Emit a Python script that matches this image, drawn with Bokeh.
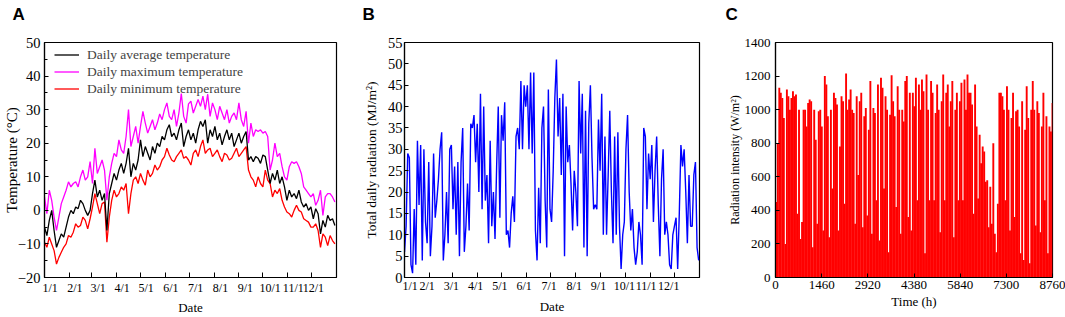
import numpy as np
from bokeh.plotting import figure
from bokeh.layouts import row
from bokeh.models import FixedTicker, Legend, LegendItem, Range1d, Title
from bokeh.embed import file_html
from bokeh.resources import INLINE

# ---------------- data ----------------
# Panel A: daily temperatures (sampled every 3rd day of the year)
temp_days = list(range(0, 365, 3))
temp_avg = [-5, -7.5, -3, 0, -6, -11, -9, -7, -8, -5,
            -2, 0, -1, 1, 0.5, 3, 2, 0, -1.5, 0,
            5, 9, 4, 6, 3, 5, -6, 5, 8, 11,
            9, 12, 14, 11, 14, 18.5, 10, 14, 12, 15,
            21, 16, 19, 17, 15, 19, 17, 20, 19, 22,
            21, 24, 25.5, 22, 23, 21, 24, 26, 19, 22,
            24, 21, 23, 20, 24, 26.5, 25, 27, 20, 24,
            22, 25, 21, 23, 19.5, 22, 24, 21, 23, 19,
            21, 23, 20, 22, 23.5, 15, 16, 14.5, 16, 15.5,
            14, 16.5, 16, 12, 8, 11, 9, 12, 8, 10,
            7, 3, 6, 4, 5, 3.5, 6, 2.5, 1, 2,
            0, 1, -2.5, 0.5, -1, -7, -3, -5, -1.5, -3,
            -2.5, -4.5]
temp_max = [4, -1, 6, 3, -2, -6, -2, 2, 4, 6,
            8.5, 7, 8, 8.5, 7, 10, 12, 9, 10, 14.5,
            8, 18.5, 11, 13, 15, 12, 3, 10, 14, 17,
            16, 21, 18, 17, 22, 30, 19, 22, 25, 20,
            25, 29.5, 26, 23, 25, 27, 24, 26, 28.7, 27,
            30, 32, 28, 27, 30, 25, 29, 34.8, 28, 26,
            31.7, 32.5, 29, 31, 33, 31, 34, 30, 34.6, 28,
            32, 30, 27, 31, 29, 27, 30, 26, 28, 29,
            27, 32, 27, 25, 29.5, 20, 26, 22, 24, 23.5,
            24, 23, 23.5, 22, 12, 15, 20, 16, 17, 13,
            10, 9, 13, 14.5, 14, 14.5, 13, 11, 7, 6,
            5, 4, 5, 1.5, 3, 6, -1.5, 4, 5, 5,
            4, 2.5]
temp_min = [-9.5, -11, -8, -10, -12, -16, -14, -12.5, -11, -10,
            -7.5, -8, -6.5, -4, -5, -4.5, -2, -3, -5.5, -2.5,
            1, 5, 2, -1, 2, 2.5, -9.5, -2, 3, 6,
            4, 5, 7, 6, 8, -1, 5, 9, 10, 8,
            11, 9, 7.5, 12, 10, 11, 13.5, 12, 13, 15,
            16, 18.5, 16.5, 15, 14.5, 16, 17, 18, 15.5, 16,
            15, 13.5, 17, 18, 16, 19, 21, 17, 18, 18.5,
            16, 17, 18, 16, 14.5, 17, 16.5, 15, 15.5, 17,
            18.5, 16, 17, 18, 19, 12, 10, 9, 7, 10,
            8, 7, 12, 9, 8, 4, 6, 5, 6.5, 3,
            1, -0.5, -1, -2, 0, 1.5, 0, -0.5, -2.5, -3,
            -3.5, -5, -5, -4, -6, -11, -7, -8, -10.5, -7.5,
            -9, -10]

# Panel B: total daily radiation (every 2nd day)
rad_days = list(range(0, 365, 2))
rad_total = [6, 12, 29, 28, 3, 1, 16, 3, 32, 17,
             31, 4, 30, 13, 8, 27, 5, 12, 29, 14,
             18, 23, 30, 34, 4, 10, 20, 8, 30, 31,
             16, 26, 10, 27, 5, 27, 35, 6, 12, 22,
             11, 36, 35, 38, 27, 36, 20, 43, 16, 40,
             18, 24, 8, 32, 12, 20, 9, 26, 40, 14,
             38, 32, 41, 10, 11, 7, 15, 19, 13, 33,
             35, 30, 46, 30, 45, 40, 45, 30, 48, 29,
             48, 11, 4, 21, 8, 35, 40, 18, 7, 44,
             16, 13, 25, 42, 51, 33, 42, 24, 43, 5,
             40, 27, 31, 22, 11, 25, 20, 12, 46, 29,
             43, 7, 39, 5, 36, 45, 28, 16, 17, 16,
             37, 25, 43, 10, 33, 10, 24, 39, 20, 8,
             33, 10, 34, 12, 2, 10, 13, 30, 38, 20,
             11, 16, 7, 3, 6, 13, 10, 3, 35, 33,
             16, 29, 23, 31, 13, 25, 33, 17, 5, 23,
             30, 10, 13, 10, 3, 2, 10, 12, 14, 2,
             15, 31, 26, 30, 20, 8, 24, 12, 12, 24,
             27, 7, 4]

# Panel C: peak radiation intensity per 2-day block (hours axis)
peak_days = list(range(0, 365, 2))
peak_intensity = [450, 800, 1130, 1100, 1070, 950, 200, 1120, 1080, 1000,
                  1070, 1110, 1080, 1090, 380, 1000, 230, 330, 1000, 1000,
                  900, 1040, 1060, 1050, 180, 1000, 820, 320, 990, 1000,
                  900, 280, 1200, 1150, 960, 240, 1000, 530, 1100, 1070,
                  1030, 280, 780, 1080, 1050, 440, 1215, 1000, 1060, 1120,
                  1000, 980, 320, 1080, 610, 1050, 1100, 300, 960, 1010,
                  370, 880, 1170, 260, 1010, 980, 460, 1150, 220, 1190,
                  1130, 530, 1080, 1000, 150, 970, 1205, 1050, 960, 420,
                  1140, 1000, 260, 1000, 930, 1170, 1200, 360, 1100, 280,
                  1100, 1020, 1190, 460, 1150, 1000, 1180, 1110, 145, 1210,
                  1000, 460, 1170, 1100, 460, 980, 1150, 1000, 270, 1050,
                  1210, 460, 1100, 1150, 900, 1050, 1170, 240, 1000, 1100,
                  460, 1050, 1160, 460, 1180, 1000, 1210, 1100, 1100, 1030,
                  380, 1150, 900, 470, 850, 680, 780, 750, 570, 580,
                  300, 540, 320, 800, 260, 150, 440, 1100, 1100, 1080,
                  1000, 460, 1140, 1000, 280, 950, 1100, 360, 990, 1000,
                  900, 145, 1050, 105, 880, 1140, 950, 85, 1000, 1170,
                  1000, 310, 1050, 980, 270, 900, 1100, 460, 960, 145,
                  900, 870, 1040]

month_labels = ["1/1", "2/1", "3/1", "4/1", "5/1", "6/1",
                "7/1", "8/1", "9/1", "10/1", "11/1", "12/1"]
month_starts = [0, 31, 59, 90, 120, 151, 181, 212, 243, 273, 304, 334]
hour_ticks = [0, 1460, 2920, 4380, 5840, 7300, 8760]

# label anchor positions (layout only)
labelpos_A = [7, 38, 67, 97, 127, 158, 189, 220, 251, 282, 311, 336]
labelpos_B = [7, 28, 58, 88, 118, 148, 179, 210, 240, 272, 299, 327]

SERIF = "Liberation Serif"
SANS = "Liberation Sans"
H = 317


def base_fig(w, bl, br, bt, bb, xr, yr, letter, title_off):
    p = figure(width=w, height=H, x_range=xr, y_range=yr,
               output_backend="svg", toolbar_location=None,
               min_border_left=bl, min_border_right=br,
               min_border_top=bt, min_border_bottom=bb)
    p.grid.visible = False
    p.outline_line_color = "black"
    p.outline_line_width = 1.2
    p.background_fill_color = "white"
    p.border_fill_color = "white"
    # invisible spacer panel between the frame and the panel letter
    p.add_layout(Title(text="\u00a0", text_font_size="10px", standoff=5), "above")
    p.title.text = letter
    p.title.text_font = SANS
    p.title.text_font_style = "bold"
    p.title.text_font_size = "17px"
    p.title.text_color = "black"
    p.title.align = "left"
    p.title.offset = title_off
    p.title.standoff = 2
    for ax in p.axis:
        ax.axis_line_color = "black"
        ax.axis_line_width = 1.2
        ax.major_label_text_font = SERIF
        ax.major_label_text_font_size = "13px"
        ax.major_label_text_color = "black"
        ax.axis_label_text_font = SERIF
        ax.axis_label_text_font_style = "normal"
        ax.axis_label_text_color = "black"
        ax.major_tick_line_color = "black"
        ax.minor_tick_line_color = "black"
        ax.major_tick_out = 0
        ax.major_tick_in = 4
        ax.minor_tick_out = 0
        ax.minor_tick_in = 0
    return p


def month_axis(p, labelpos):
    ax = p.xaxis[0]
    ax.ticker = FixedTicker(ticks=labelpos, minor_ticks=month_starts[1:])
    ax.major_label_overrides = {pos: lab for pos, lab in zip(labelpos, month_labels)}
    ax.major_label_text_font_size = "12px"
    ax.major_tick_in = 0
    ax.minor_tick_in = 5
    ax.axis_label = "Date"
    ax.axis_label_text_font_size = "13px"


# ---------------- Panel A ----------------
pA = base_fig(355, 39, 19, 41, 38, Range1d(0, 365), Range1d(-20, 50), "A", -32)
month_axis(pA, labelpos_A)
pA.xaxis.major_label_standoff = 3
pA.xaxis.axis_label_standoff = 2
ya = pA.yaxis[0]
ya.ticker = FixedTicker(ticks=list(range(-20, 51, 10)), minor_ticks=list(range(-15, 50, 10)))
ya.minor_tick_in = 3
ya.major_label_text_font_size = "14.5px"
ya.axis_label = "Temperature (°C)"
ya.axis_label_text_font_size = "15px"
ya.major_label_standoff = 4
ya.axis_label_standoff = -5

r_max = pA.line(temp_days, temp_max, line_color="#ff00ff", line_width=1.3)
r_min = pA.line(temp_days, temp_min, line_color="#ff0000", line_width=1.3)
r_avg = pA.line(temp_days, temp_avg, line_color="black", line_width=1.3)
leg = Legend(items=[LegendItem(label="Daily average temperature", renderers=[r_avg]),
                    LegendItem(label="Daily maximum temperature", renderers=[r_max]),
                    LegendItem(label="Daily minimum temperature", renderers=[r_min])],
             location=(10, 180), margin=0, padding=2, spacing=0,
             glyph_width=25, glyph_height=17, label_height=17, label_standoff=8,
             label_text_font=SERIF, label_text_font_size="13.5px",
             border_line_color=None, background_fill_alpha=0)
pA.add_layout(leg)

# ---------------- Panel B ----------------
pB = base_fig(355, 49, 11, 42, 34, Range1d(0, 365), Range1d(0, 55), "B", -42)
month_axis(pB, labelpos_B)
pB.xaxis.major_label_standoff = 1
pB.xaxis.axis_label_standoff = 3
yb = pB.yaxis[0]
yb.ticker = FixedTicker(ticks=list(range(0, 56, 5)))
yb.major_label_text_font_size = "14.5px"
yb.axis_label = "Total daily radiation (MJ/m²)"
yb.axis_label_text_font_size = "13.5px"
yb.major_label_standoff = 2
yb.axis_label_standoff = 6
pB.line(rad_days, rad_total, line_color="#0000ff", line_width=1.4)

# ---------------- Panel C ----------------
pC = base_fig(355, 65, 13, 41, 39, Range1d(0, 8760), Range1d(0, 1400), "C", -50)
xc = pC.xaxis[0]
xc.ticker = FixedTicker(ticks=hour_ticks)
xc.axis_label = "Time (h)"
xc.axis_label_text_font_size = "13px"
xc.major_label_standoff = 3
xc.axis_label_standoff = 2
yc = pC.yaxis[0]
yc.ticker = FixedTicker(ticks=list(range(0, 1401, 200)))
yc.axis_label = "Radiation intensity (W/m²)"
yc.axis_label_text_font_size = "12px"
yc.major_label_standoff = 5
yc.axis_label_standoff = 0
hours_center = np.array(peak_days) * 24 + 24
pC.vbar(x=hours_center, top=peak_intensity, bottom=0, width=60,
        fill_color="#ff0000", line_color=None)

layout = row(pA, pB, pC)
open("out.html", "w").write(file_html(layout, INLINE))
